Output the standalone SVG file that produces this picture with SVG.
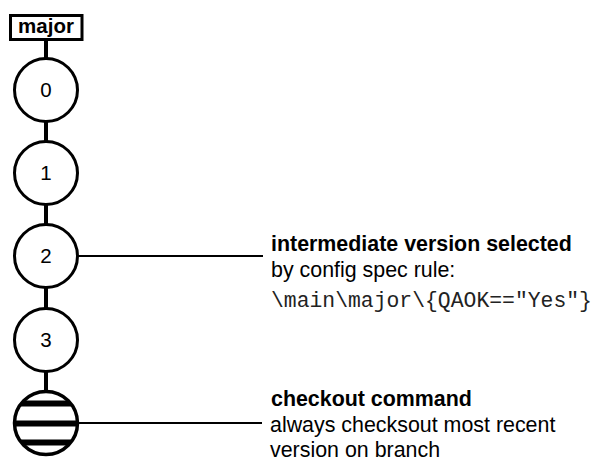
<svg xmlns="http://www.w3.org/2000/svg" width="601" height="464" viewBox="0 0 601 464">
<style>
.ring{fill:#fff;stroke:#000;stroke-width:3}
.num{font-family:"Liberation Sans",Arial,sans-serif;font-size:20.5px;text-anchor:middle;fill:#000}
.b{font-family:"Liberation Sans",Arial,sans-serif;font-size:21.4px;font-weight:bold;fill:#000}
.r{font-family:"Liberation Sans",Arial,sans-serif;font-size:21.4px;fill:#000}
.m{font-family:"Liberation Mono","Courier New",monospace;font-size:21.4px;fill:#222}
.conn{stroke:#000;stroke-width:4;fill:none}
.lead{stroke:#000;stroke-width:2;fill:none}
</style>
<defs>
<clipPath id="cc"><circle cx="46" cy="423" r="31.5"/></clipPath>
</defs>
<rect width="601" height="464" fill="#fff"/>
<g id="connectors">
<line class="conn" x1="46" y1="39" x2="46" y2="410"/>
<line class="lead" x1="77" y1="256" x2="263" y2="256"/>
<line class="lead" x1="77" y1="423" x2="262" y2="423"/>
</g>
<g id="branch">
<rect x="10.5" y="15.5" width="71.5" height="24" fill="#fff" stroke="#000" stroke-width="3"/>
<text x="46" y="33" class="b" style="font-size:20.5px" text-anchor="middle">major</text>
</g>
<g id="v0"><circle class="ring" cx="46" cy="90" r="31.5"/><text class="num" x="46" y="97">0</text></g>
<g id="v1"><circle class="ring" cx="46" cy="173" r="31.5"/><text class="num" x="46" y="180">1</text></g>
<g id="v2"><circle class="ring" cx="46" cy="256" r="31.5"/><text class="num" x="46" y="263">2</text></g>
<g id="v3"><circle class="ring" cx="46" cy="340" r="31.5"/><text class="num" x="46" y="347">3</text></g>
<g id="checkout">
<circle cx="46" cy="423" r="31.5" fill="#fff"/>
<g clip-path="url(#cc)" fill="#000">
<rect x="10" y="400.5" width="72" height="6"/>
<rect x="10" y="420.5" width="72" height="6"/>
<rect x="10" y="439.5" width="72" height="6"/>
</g>
<circle cx="46" cy="423" r="31.5" fill="none" stroke="#000" stroke-width="3.5"/>
</g>
<g id="note1">
<text class="b" x="271" y="251">intermediate version selected</text>
<text class="r" x="271" y="277">by config spec rule:</text>
<text class="m" x="271" y="307">\main\major\{QAOK=="Yes"}</text>
</g>
<g id="note2">
<text class="b" x="271" y="406">checkout command</text>
<text class="r" x="270" y="432">always checksout most recent</text>
<text class="r" x="270" y="457">version on branch</text>
</g>
</svg>
